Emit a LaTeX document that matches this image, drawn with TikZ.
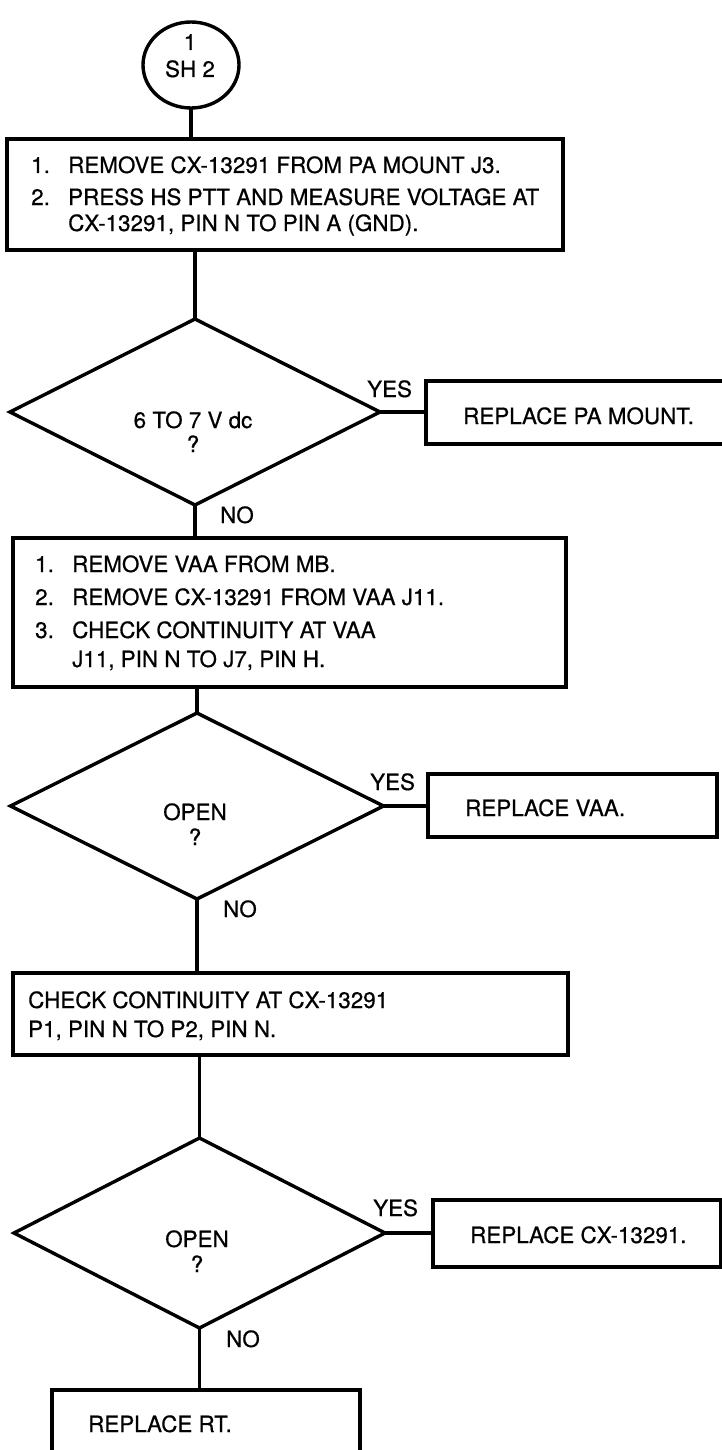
\documentclass[tikz,border=0pt]{standalone}
\usepackage{fontspec}
\newfontfamily\hvfont[FakeBold=0.6]{TeX Gyre Heros}
\usetikzlibrary{shapes.geometric}
\begin{document}
\begin{tikzpicture}[x=1pt,y=-1pt,
  every node/.style={font=\hvfont\fontsize{22.4}{26}\selectfont},
  frame/.style={draw, line width=3.4pt, rectangle, inner sep=0pt, outer sep=0pt},
  dec/.style={draw, line width=3.4pt, diamond, inner sep=0pt, outer sep=0pt},
  conn/.style={line width=3.4pt},
  txt/.style={anchor=base west, inner sep=0pt},
  ctxt/.style={anchor=base, inner sep=0pt}]
\useasboundingbox (0,0) rectangle (722,1450);
\clip (0,0) rectangle (722,1450);

% start circle
\node[draw, ellipse, line width=3.4pt, minimum width=96pt, minimum height=86pt, inner sep=0pt, outer sep=0pt] (c1) at (191,65) {};
\node[ctxt] (c1a) at (190,50) {1};
\node[ctxt] (c1b) at (190,77) {SH 2};

% box 1
\node[frame, minimum width=556pt, minimum height=111pt] (b1) at (285,194.5) {};
\node[txt] (b1n1) at (31,173) {1.};
\node[txt] (b1t1) at (68,173) {REMOVE CX-13291 FROM PA MOUNT J3.};
\node[txt] (b1n2) at (31,205) {2.};
\node[txt] (b1t2) at (68,205) {PRESS HS PTT AND MEASURE VOLTAGE AT};
\node[txt] (b1t3) at (68,231) {CX-13291, PIN N TO PIN A (GND).};

% decision 1
\node[dec, minimum width=370pt, minimum height=186pt] (d1) at (195,412) {};
\node[ctxt] (d1a) at (193,428) {6 TO 7 V dc};
\node[ctxt] (d1b) at (193,452) {?};
\node[frame, minimum width=304pt, minimum height=63pt] (r1) at (578,412.5) {};
\node[txt] (r1t) at (463,424) {REPLACE PA MOUNT.};
\node[txt] (y1) at (367,397) {YES};
\node[txt] (n1) at (220,523) {NO};

% box 2
\node[frame, minimum width=553pt, minimum height=149pt] (b2) at (289.5,612.5) {};
\node[txt] (b2n1) at (35,572) {1.};
\node[txt] (b2t1) at (72,572) {REMOVE VAA FROM MB.};
\node[txt] (b2n2) at (35,605) {2.};
\node[txt] (b2t2) at (72,605) {REMOVE CX-13291 FROM VAA J11.};
\node[txt] (b2n3) at (35,638) {3.};
\node[txt] (b2t3) at (72,638) {CHECK CONTINUITY AT VAA};
\node[txt] (b2t4) at (72,667) {J11, PIN N TO J7, PIN H.};

% decision 2
\node[dec, minimum width=373pt, minimum height=186pt] (d2) at (197,806) {};
\node[ctxt] (d2a) at (195,820) {OPEN};
\node[ctxt] (d2b) at (195,845) {?};
\node[frame, minimum width=289pt, minimum height=63pt] (r2) at (572.5,805.5) {};
\node[txt] (r2t) at (465,816) {REPLACE VAA.};
\node[txt] (y2) at (370,790) {YES};
\node[txt] (n2) at (223,917) {NO};

% box 3
\node[frame, minimum width=555pt, minimum height=82pt] (b3) at (290.5,1014) {};
\node[txt] (b3t1) at (28,1008) {CHECK CONTINUITY AT CX-13291};
\node[txt] (b3t2) at (28,1037) {P1, PIN N TO P2, PIN N.};

% decision 3
\node[dec, minimum width=371pt, minimum height=190pt] (d3) at (199.5,1233) {};
\node[ctxt] (d3a) at (197,1247) {OPEN};
\node[ctxt] (d3b) at (197,1272) {?};
\node[frame, minimum width=288pt, minimum height=67pt] (r3) at (577,1233.5) {};
\node[txt] (r3t) at (470,1243) {REPLACE CX-13291.};
\node[txt] (y3) at (373,1216) {YES};
\node[txt] (n3) at (226,1347) {NO};

% box 4
\node[frame, minimum width=308pt, minimum height=80pt] (b4) at (206,1430) {};
\node[txt] (b4t) at (88,1432) {REPLACE RT.};

% connectors
\draw[conn] (c1.south) -- (c1.south |- b1.north);
\draw[conn] (d1.north) -- (d1.north |- b1.south);
\draw[conn] (d1.east) -- (d1.east -| r1.west);
\draw[conn] (d1.south) -- (d1.south |- b2.north);
\draw[conn] (d2.north) -- (d2.north |- b2.south);
\draw[conn] (d2.east) -- (d2.east -| r2.west);
\draw[conn] (d2.south) -- (d2.south |- b3.north);
\draw[conn] (d3.north) -- (d3.north |- b3.south);
\draw[conn] (d3.east) -- (d3.east -| r3.west);
\draw[conn] (d3.south) -- (d3.south |- b4.north);
\end{tikzpicture}
\end{document}
